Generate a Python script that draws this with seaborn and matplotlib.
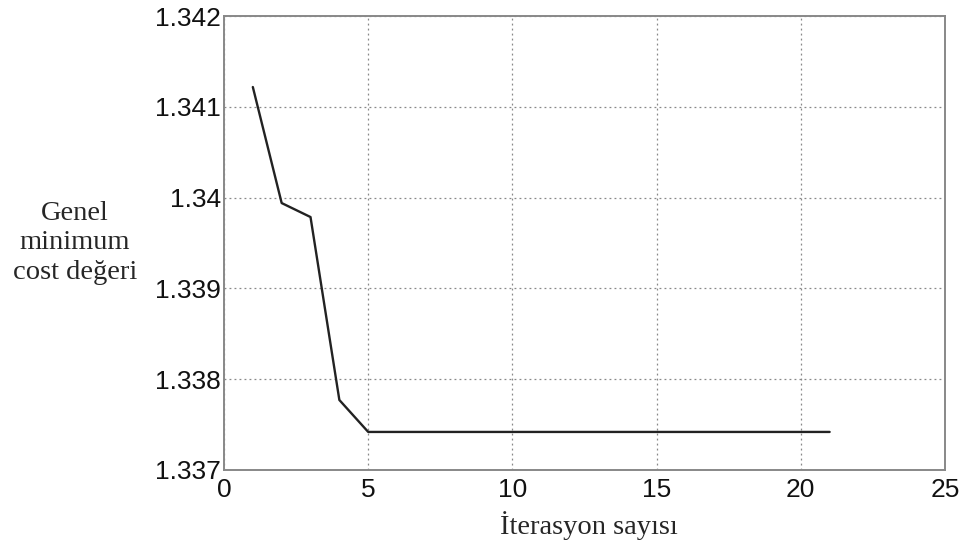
import numpy as np
import pandas as pd
import seaborn as sns
import matplotlib.pyplot as plt

iterasyon = [1, 2, 3, 4, 5, 6, 7, 8, 9, 10, 11, 12, 13, 14, 15, 16, 17, 18, 19, 20, 21]
cost = [1.341218, 1.339940, 1.339786, 1.337771, 1.337419, 1.337419, 1.337419,
        1.337419, 1.337419, 1.337419, 1.337419, 1.337419, 1.337419, 1.337419,
        1.337419, 1.337419, 1.337419, 1.337419, 1.337419, 1.337419, 1.337419]

x_ticks = [0, 5, 10, 15, 20, 25]
y_ticks = [1.337, 1.338, 1.339, 1.34, 1.341, 1.342]
y_ticklabels = ["1.337", "1.338", "1.339", "1.34", "1.341", "1.342"]

df = pd.DataFrame({"iter": iterasyon, "cost": cost})

sns.set_style("white")
plt.rcParams['font.family'] = ['Liberation Sans Narrow', 'Liberation Sans', 'DejaVu Sans']

fig = plt.figure(figsize=(9.63, 5.47), dpi=100)
ax = fig.add_axes([0.2326, 0.1408, 0.7487, 0.8299])

sns.lineplot(data=df, x="iter", y="cost", ax=ax, color="#222222", linewidth=1.7)

ax.set_xlim(0, 25)
ax.set_ylim(1.337, 1.342)
ax.set_xticks(x_ticks)
ax.set_yticks(y_ticks)
ax.set_yticklabels(y_ticklabels)
ax.grid(True, linestyle=(0, (1.5, 2.5)), color="#888888", linewidth=0.9)
ax.tick_params(direction="in", length=5, width=1, color="#777777",
               labelsize=19, labelcolor="#111111")
ax.tick_params(axis="y", pad=2)
ax.tick_params(axis="x", pad=6)
for s in ax.spines.values():
    s.set_color("#888888")
    s.set_linewidth(1.4)

ax.set_xlabel("")
ax.set_ylabel("")
serif = ["Liberation Serif", "DejaVu Serif"]
fig.text(0.078, 0.556, "Genel\nminimum\ncost değeri", ha="center", va="center",
         fontsize=20.5, family=serif, linespacing=1.22)
fig.text(0.611, 0.04, "İterasyon sayısı", ha="center", va="center",
         fontsize=20.5, family=serif)

plt.savefig("out.png", dpi=100)
